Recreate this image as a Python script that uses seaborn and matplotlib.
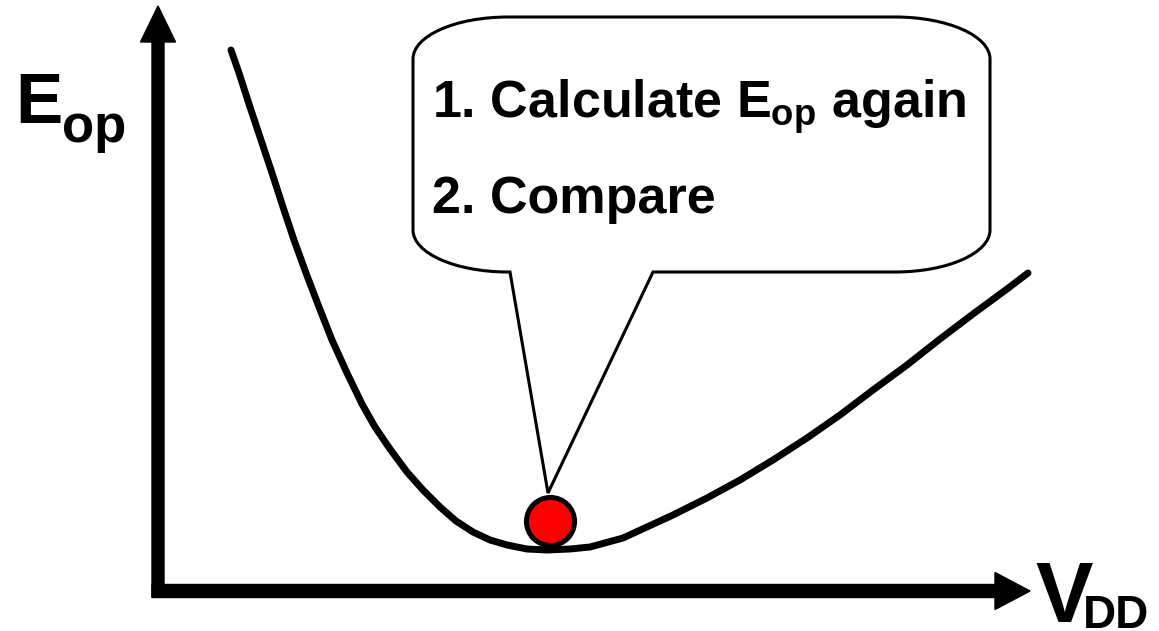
import numpy as np
import pandas as pd
import seaborn as sns
import matplotlib.pyplot as plt
from matplotlib.path import Path
from matplotlib.patches import PathPatch

# curve (origin = axis corner)
v_dd = [73, 81, 92, 103, 114, 125, 136, 148, 161, 174, 189, 204, 217, 232, 249,
        265, 282, 298, 315, 332, 349, 369, 389, 412, 432, 465, 502, 515, 549,
        582, 615, 649, 682, 715, 749, 782, 815, 849, 870]
e_op = [541, 518, 484, 451, 418, 384, 351, 318, 284, 251, 218, 187, 164, 142, 119,
        101, 84, 70, 59, 51, 46, 42, 41, 42, 44, 53, 70, 76, 93,
        111, 131, 153, 176, 201, 226, 252, 277, 302, 318]

# operating point marked in red
point_v = [392]
point_e = [70]

callout_lines = ["1. Calculate $E_{op}$ again", "2. Compare"]

sns.set_style("white")
plt.rcParams['font.family'] = ['Liberation Sans', 'DejaVu Sans']
plt.rcParams['font.weight'] = 'bold'
plt.rcParams['text.color'] = 'black'
plt.rcParams['mathtext.fontset'] = 'custom'
plt.rcParams['mathtext.rm'] = 'Liberation Sans:bold'
plt.rcParams['mathtext.it'] = 'Liberation Sans:bold'
plt.rcParams['mathtext.bf'] = 'Liberation Sans:bold'

fig = plt.figure(figsize=(11.59, 6.31), dpi=100)
ax = fig.add_axes([0, 0, 1, 1])
ax.set_xlim(-158, 1001)
ax.set_ylim(-40, 591)
ax.set_axis_off()

# axes drawn as thick arrows
ax.arrow(0, -6, 0, 591, width=12, head_width=35, head_length=36,
         length_includes_head=True, color='black', zorder=2)
ax.arrow(-6, 0, 878, 0, width=13, head_width=37, head_length=35,
         length_includes_head=True, color='black', zorder=2)

ax.text(-143, 468, "E", fontsize=51, fontweight='bold', va='baseline')
ax.text(-96, 449, "op", fontsize=38, fontweight='bold', va='baseline')
ax.text(877, -31, "V", fontsize=62, fontweight='bold', va='baseline')
ax.text(925, -37, "DD", fontsize=33, fontweight='bold', va='baseline')

df = pd.DataFrame({'V_DD': v_dd, 'E_op': e_op})
sns.lineplot(data=df, x='V_DD', y='E_op', color='black', linewidth=5,
             ax=ax, zorder=3)

# speech bubble
L, R, T, B = 255, 832, 574, 319
rx, ry, k = 95, 42, 0.5523
tail_l, tail_r, tip = 352, 495, (390, 98)
verts = [
    (tail_l, B),
    (L + rx, B),
    (L + rx - k * rx, B), (L, B + ry - k * ry), (L, B + ry),
    (L, T - ry),
    (L, T - ry + k * ry), (L + rx - k * rx, T), (L + rx, T),
    (R - rx, T),
    (R - rx + k * rx, T), (R, T - ry + k * ry), (R, T - ry),
    (R, B + ry),
    (R, B + ry - k * ry), (R - rx + k * rx, B), (R - rx, B),
    (tail_r, B),
    tip,
    (tail_l, B),
]
codes = [Path.MOVETO, Path.LINETO,
         Path.CURVE4, Path.CURVE4, Path.CURVE4,
         Path.LINETO,
         Path.CURVE4, Path.CURVE4, Path.CURVE4,
         Path.LINETO,
         Path.CURVE4, Path.CURVE4, Path.CURVE4,
         Path.LINETO,
         Path.CURVE4, Path.CURVE4, Path.CURVE4,
         Path.LINETO, Path.LINETO, Path.CLOSEPOLY]
ax.add_patch(PathPatch(Path(verts, codes), facecolor='white',
                       edgecolor='black', linewidth=2.2, zorder=4))

ax.text(274, 473, callout_lines[0], fontsize=37.5, fontweight='bold',
        va='baseline', zorder=5)
ax.text(274, 378, callout_lines[1], fontsize=37.5, fontweight='bold',
        va='baseline', zorder=5)

sns.scatterplot(x=point_v, y=point_e, color='red', edgecolor='black',
                linewidth=3.6, s=1200, ax=ax, zorder=6, legend=False)

fig.savefig('out.png', dpi=100)
